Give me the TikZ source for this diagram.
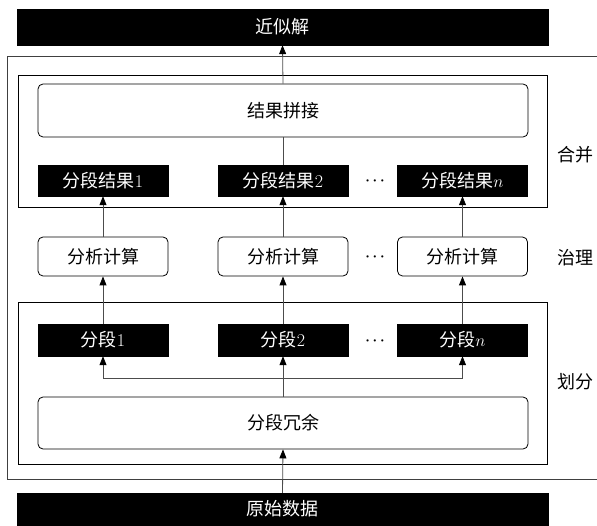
\documentclass[tikz,border=0pt]{standalone}
\usepackage{fontspec}
\newfontfamily\cjk{Noto Sans CJK SC}
\usetikzlibrary{arrows.meta}
\tikzset{
  x=1pt,y=-1pt,
  every node/.style={font=\fontsize{18}{21}\selectfont},
  blackbox/.style={fill=black,draw=black,text=white,inner sep=0pt,minimum height=31pt,minimum width=130pt},
  wbox/.style={draw=black,rounded corners=5pt,thick,fill=white,inner sep=0pt,minimum width=130pt,minimum height=39pt},
  frame/.style={draw=black!75,line width=0.9pt},
  conn/.style={draw=black!70,line width=0.8pt},
  arr/.style={conn,-{Triangle[length=9pt,width=7pt,color=black]}},
  dotsnode/.style={font=\fontsize{14}{14}\selectfont\boldmath},
}
\begin{document}
\begin{tikzpicture}
\useasboundingbox (0,0) rectangle (597,526);
\clip (0,0) rectangle (597,526);
% frames
\draw[frame] (7,56) rectangle (620,479);
\draw[frame,draw=black] (18,75) rectangle (547,207);
\draw[frame,draw=black] (18,302) rectangle (547,464);
% top and bottom bars
\node[blackbox,minimum width=531pt,minimum height=36pt] (top) at (282.5,27) {\cjk 近似解};
\node[blackbox,minimum width=531pt,minimum height=40pt] (bot) at (282.5,513) {};
\node[text=white] (botlab) at (282.5,509) {\cjk 原始数据};
% merge
\node[wbox,minimum width=490pt,minimum height=53pt] (merge) at (283,110.5) {\cjk 结果拼接};
\node[blackbox] (res1) at (103,180.5) {{\cjk 分段结果}1};
\node[blackbox] (res2) at (283,180.5) {{\cjk 分段结果}2};
\node[blackbox] (resn) at (462.5,180.5) {{\cjk 分段结果}$n$};
\node[dotsnode] (dots1) at (375,181) {$\cdots$};
% analysis
\node[wbox] (ana1) at (103,256.5) {\cjk 分析计算};
\node[wbox] (ana2) at (283,256.5) {\cjk 分析计算};
\node[wbox] (anan) at (462.5,256.5) {\cjk 分析计算};
\node[dotsnode] (dots2) at (375,257) {$\cdots$};
% segments
\node[blackbox,minimum height=32pt] (seg1) at (103,340) {{\cjk 分段}1};
\node[blackbox,minimum height=32pt] (seg2) at (283,340) {{\cjk 分段}2};
\node[blackbox,minimum height=32pt] (segn) at (462.5,340) {{\cjk 分段}$n$};
\node[dotsnode] (dots3) at (375,341) {$\cdots$};
\node[wbox,minimum width=490pt,minimum height=52pt] (red) at (283,423) {\cjk 分段冗余};
% labels
\node (lab1) at (575,155) {\cjk 合并};
\node (lab2) at (575,258) {\cjk 治理};
\node (lab3) at (575,382) {\cjk 划分};
% connectors
\coordinate (hub) at (283,378);
\draw[arr] (bot.north) -- (red.south);
\draw[conn] (red.north) -- (hub);
\draw[arr] (hub) -- (seg2.south);
\draw[arr] (hub) -| (seg1.south);
\draw[arr] (hub) -| (segn.south);
\draw[arr] (seg1.north) -- (ana1.south);
\draw[arr] (seg2.north) -- (ana2.south);
\draw[arr] (segn.north) -- (anan.south);
\draw[arr] (ana1.north) -- (res1.south);
\draw[arr] (ana2.north) -- (res2.south);
\draw[arr] (anan.north) -- (resn.south);
\draw[conn] (res2.north) -- (merge.south);
\draw[arr] (merge.north) -- (top.south);
\end{tikzpicture}
\end{document}
